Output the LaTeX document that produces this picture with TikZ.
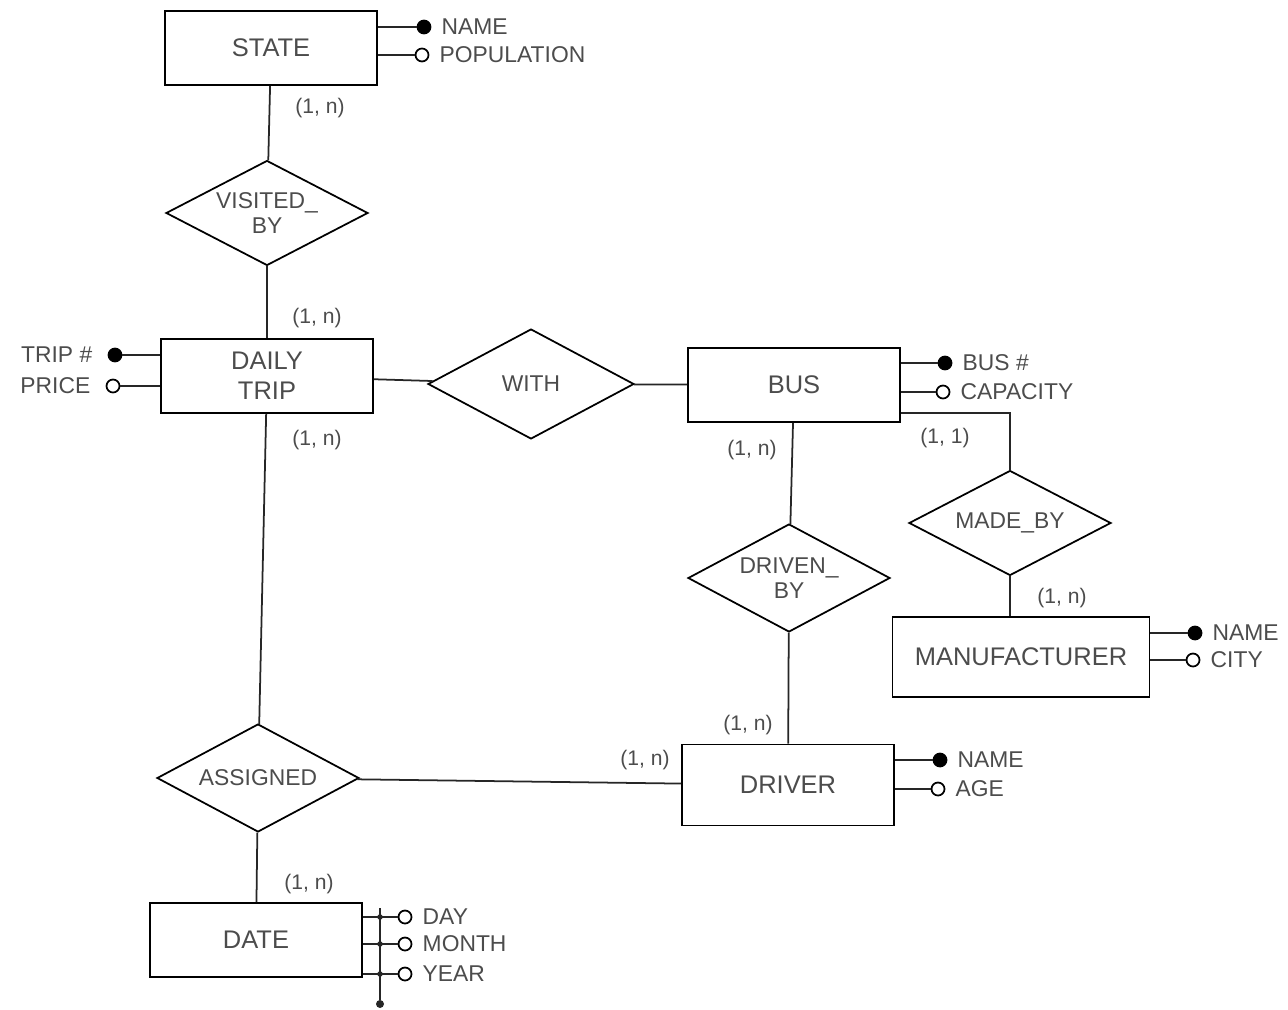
\documentclass[tikz,border=0pt]{standalone}
\usepackage{fontspec}
\setmainfont{Liberation Sans}
\usetikzlibrary{shapes.geometric}

\begin{document}
\begin{tikzpicture}[x=0.02cm, y=-0.02cm,
  entity/.style={draw, line width=1pt, minimum width=4.24cm, minimum height=1.48cm,
                 inner sep=0pt, align=center, text=black!70,
                 font=\fontsize{14.5}{17}\selectfont},
  relation/.style={draw, diamond, shape aspect=2, line width=1pt, minimum width=4.04cm,
                   minimum height=2.1cm, inner sep=0pt, align=center, text=black!70,
                   font=\fontsize{13}{14.5}\selectfont},
  key/.style={circle, draw, fill=black, line width=1pt, inner sep=0pt,
              minimum size=0.26cm},
  attr/.style={circle, draw, fill=white, line width=1pt, inner sep=0pt,
               minimum size=0.26cm},
  atr/.style={text=black!70, inner sep=0pt, xshift=0.2cm, font=\fontsize{13}{15}\selectfont},
  atl/.style={text=black!70, inner sep=0pt, xshift=-0.3cm, font=\fontsize{13}{15}\selectfont},
  card/.style={text=black!70, inner sep=0pt, font=\fontsize{12}{14}\selectfont},
  link/.style={line width=1pt, black!85},
  iddot/.style={circle, fill=black!85, inner sep=0pt, minimum size=0.11cm}
]
  \useasboundingbox (0,0) rectangle (1288,1010);

  % entities
  \node[entity] (state)  at (271,48)  {STATE};
  \node[entity] (trip)   at (267,376) {DAILY\\TRIP};
  \node[entity] (bus)    at (794,385) {BUS};
  \node[entity, minimum width=5.14cm, minimum height=1.6cm] (manuf) at (1021,657) {MANUFACTURER};
  \node[entity, minimum height=1.62cm] (driver) at (788,785) {DRIVER};
  \node[entity] (date)   at (256,940) {DATE};

  % relationships
  \node[relation] (visited)  at (267,213) {VISITED\_\\BY};
  \node[relation, minimum width=4.12cm, minimum height=2.2cm] (with) at (531,384) {WITH};
  \node[relation] (madeby)   at (1010,523) {MADE\_BY};
  \node[relation, minimum height=2.16cm] (drivenby) at (789,578) {DRIVEN\_\\BY};
  \node[relation, minimum height=2.16cm] (assigned) at (258,778) {ASSIGNED};

  % attributes
  \node[key,  label={[atr]right:NAME}]       (sname) at (424,27)  {};
  \node[attr, label={[atr]right:POPULATION}] (spop)  at (422,55)  {};
  \node[key,  label={[atl]left:TRIP \#}]     (tnum)  at (115,355) {};
  \node[attr, label={[atl]left:PRICE}]       (tprice) at (113,386) {};
  \node[key,  label={[atr]right:BUS \#}]     (bnum)  at (945,363) {};
  \node[attr, label={[atr]right:CAPACITY}]   (bcap)  at (943,392) {};
  \node[key,  label={[atr]right:NAME}]       (mname) at (1195,633) {};
  \node[attr, label={[atr]right:CITY}]       (mcity) at (1193,660) {};
  \node[key,  label={[atr]right:NAME}]       (dname) at (940,760) {};
  \node[attr, label={[atr]right:AGE}]        (dage)  at (938,789) {};
  \node[attr, label={[atr]right:DAY}]        (day)   at (405,917) {};
  \node[attr, label={[atr]right:MONTH}]      (month) at (405,944) {};
  \node[attr, label={[atr]right:YEAR}]       (year)  at (405,974) {};

  \draw[link] (sname.west) -- (sname -| state.east);
  \draw[link] (spop.west) -- (spop -| state.east);
  \draw[link] (tnum.east) -- (tnum -| trip.west);
  \draw[link] (tprice.east) -- (tprice -| trip.west);
  \draw[link] (bnum.west) -- (bnum -| bus.east);
  \draw[link] (bcap.west) -- (bcap -| bus.east);
  \draw[link] (mname.west) -- (mname -| manuf.east);
  \draw[link] (mcity.west) -- (mcity -| manuf.east);
  \draw[link] (dname.west) -- (dname -| driver.east);
  \draw[link] (dage.west) -- (dage -| driver.east);
  \draw[link] (day.west) -- (day -| date.east);
  \draw[link] (month.west) -- (month -| date.east);
  \draw[link] (year.west) -- (year -| date.east);

  % composite identifier of DATE
  \coordinate (idtop) at (380,908);
  \node[circle, fill=black!85, inner sep=0pt, minimum size=0.16cm] (idend) at (380,1004) {};
  \draw[link] (idtop) -- (idend);
  \foreach \a in {day,month,year}
    \node[iddot] at (idtop |- \a) {};

  % links
  \draw[link] (state) -- (visited);
  \draw[link] (visited) -- (trip);
  \draw[link] (trip) -- (assigned);
  \draw[link] (trip) -- (with);
  \draw[link] (with) -- (bus);
  \draw[link] (bus) -- (drivenby);
  \draw[link] (drivenby) -- (driver);
  \draw[link] ([yshift=0.2cm]bus.south east) -| (madeby.north);
  \draw[link] (madeby.south) -- (madeby.south |- manuf.north);
  \draw[link] (assigned) -- (driver);
  \draw[link] (assigned) -- (date);

  % cardinalities
  \node[card] (c1) at (320,108) {(1, n)};
  \node[card] (c2) at (317,318) {(1, n)};
  \node[card] (c3) at (317,440) {(1, n)};
  \node[card] (c4) at (752,450) {(1, n)};
  \node[card] (c5) at (945,438) {(1, 1)};
  \node[card] (c6) at (1062,598) {(1, n)};
  \node[card] (c7) at (748,725) {(1, n)};
  \node[card] (c8) at (645,760) {(1, n)};
  \node[card] (c9) at (309,884) {(1, n)};
\end{tikzpicture}
\end{document}
